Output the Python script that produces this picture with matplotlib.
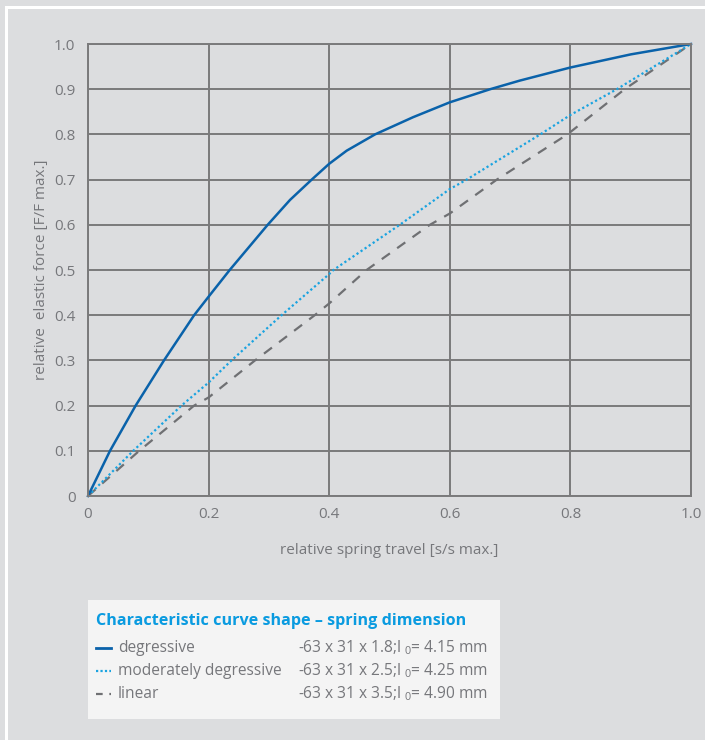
import matplotlib
matplotlib.use("Agg")
import matplotlib.pyplot as plt
from matplotlib.lines import Line2D
from matplotlib.patches import Rectangle

# ---- data ----
deg_x = [0, 0.0365, 0.079, 0.126, 0.176, 0.2, 0.235, 0.298, 0.335, 0.371, 0.4, 0.429, 0.476,
         0.539, 0.6, 0.667, 0.716, 0.8, 0.9, 1.0]
deg_y = [0, 0.1, 0.2, 0.3, 0.4, 0.441, 0.5, 0.6, 0.655, 0.7, 0.735, 0.764, 0.8,
         0.838, 0.871, 0.9, 0.919, 0.948, 0.977, 1.0]

mod_x = [0, 0.075, 0.155, 0.2, 0.238, 0.321, 0.4, 0.407, 0.517, 0.6, 0.628, 0.75, 0.8, 0.877, 1.0]
mod_y = [0, 0.1, 0.2, 0.251, 0.3, 0.4, 0.491, 0.5, 0.6, 0.679, 0.7, 0.8, 0.843, 0.9, 1.0]

lin_x = [0, 0.085, 0.176, 0.2, 0.277, 0.376, 0.4, 0.462, 0.567, 0.6, 0.678, 0.795, 0.89, 1.0]
lin_y = [0, 0.1, 0.2, 0.218, 0.3, 0.4, 0.426, 0.5, 0.6, 0.625, 0.7, 0.8, 0.9, 1.0]

x_ticks = [0, 0.2, 0.4, 0.6, 0.8, 1.0]
x_ticklabels = ["0", "0.2", "0.4", "0.6", "0.8", "1.0"]
y_ticks = [0, 0.1, 0.2, 0.3, 0.4, 0.5, 0.6, 0.7, 0.8, 0.9, 1.0]
y_ticklabels = ["0", "0.1", "0.2", "0.3", "0.4", "0.5", "0.6", "0.7", "0.8", "0.9", "1.0"]

legend_title = "Characteristic curve shape – spring dimension"
legend_names = ["degressive", "moderately degressive", "linear"]
legend_specs = [r"-63 x 31 x 1.8;l$_{\ 0}$= 4.15 mm",
                r"-63 x 31 x 2.5;l$_{\ 0}$= 4.25 mm",
                r"-63 x 31 x 3.5;l$_{\ 0}$= 4.90 mm"]

# ---- style ----
BG = "#dcdddf"
GRID = "#7a7a7b"
TXT = "#76777b"
C_DEG = "#0a62aa"
C_MOD = "#1aa3e0"
C_LIN = "#6f7073"
TITLE_C = "#0a9be0"

plt.rcParams['font.family'] = ['Open Sans', 'DejaVu Sans']
plt.rcParams['mathtext.fontset'] = 'custom'
plt.rcParams['mathtext.rm'] = 'Open Sans'
plt.rcParams['mathtext.it'] = 'Open Sans'

W, H = 705, 740
fig = plt.figure(figsize=(W / 100, H / 100), dpi=100, facecolor=BG)

def fx(px):
    return px / W

def fy(py):
    return 1 - py / H

# white frame line
fig.add_artist(Line2D([fx(6), fx(6)], [fy(7), 0], color="white", lw=2.2, transform=fig.transFigure))
fig.add_artist(Line2D([fx(6), 1], [fy(7), fy(7)], color="white", lw=2.2, transform=fig.transFigure))

ax_l, ax_r, ax_t, ax_b = 88, 691, 44, 496
ax = fig.add_axes([fx(ax_l), fy(ax_b), (ax_r - ax_l) / W, (ax_b - ax_t) / H])
ax.set_facecolor(BG)
ax.set_xlim(0, 1)
ax.set_ylim(0, 1)
ax.set_xticks(x_ticks)
ax.set_xticklabels(x_ticklabels)
ax.set_yticks(y_ticks)
ax.set_yticklabels(y_ticklabels)
ax.tick_params(length=0, colors=TXT, labelsize=11)
ax.tick_params(axis='x', pad=8)
ax.tick_params(axis='y', pad=9)
ax.grid(True, color=GRID, lw=1.4)
ax.set_axisbelow(True)
for s in ax.spines.values():
    s.set_color(GRID)
    s.set_linewidth(1.4)

ax.plot(lin_x, lin_y, color=C_LIN, lw=1.6, dashes=(4.5, 4), clip_on=False)
ax.plot(mod_x, mod_y, color=C_MOD, lw=1.6, dashes=(1, 1.2), clip_on=False)
ax.plot(deg_x, deg_y, color=C_DEG, lw=1.8, clip_on=False, solid_joinstyle="round")

ax.set_xlabel("relative spring travel [s/s max.]", color=TXT, fontsize=11, labelpad=15)
ax.set_ylabel("relative  elastic force [F/F max.]", color=TXT, fontsize=11, labelpad=4)

# legend box
fig.add_artist(Rectangle((fx(88), fy(719)), (500 - 88) / W, (719 - 600) / H,
                         facecolor="#f4f4f4", edgecolor="none", transform=fig.transFigure))
fig.text(fx(96), fy(621), legend_title, color=TITLE_C, fontsize=11.6, fontweight="bold",
         va="center", ha="left")
styles = [dict(color=C_DEG, lw=2.0), dict(color=C_MOD, lw=1.6, dashes=(1, 1)),
          dict(color=C_LIN, lw=1.6, dashes=(3, 3))]
rows = [648, 671, 694]
for name, spec, st, ry in zip(legend_names, legend_specs, styles, rows):
    fig.add_artist(Line2D([fx(96), fx(111)], [fy(ry), fy(ry)], transform=fig.transFigure, **st))
    fig.text(fx(118), fy(ry), name, color=TXT, fontsize=11.2, va="center", ha="left")
    fig.text(fx(298), fy(ry), spec, color=TXT, fontsize=11.2, va="center", ha="left")

fig.savefig("out.png", dpi=100, facecolor=BG)
